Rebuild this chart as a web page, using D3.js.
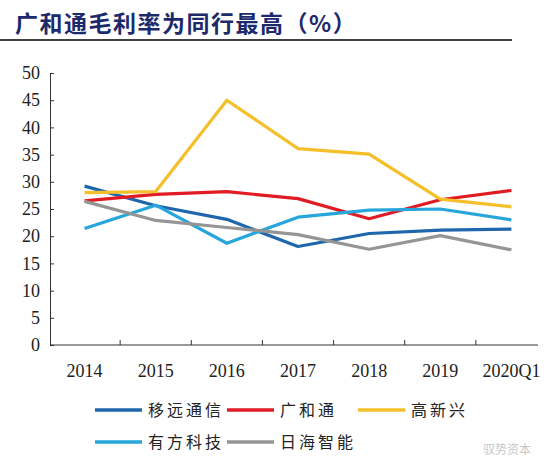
<!doctype html>
<html>
<head>
  <meta charset="utf-8">
  <style>
    body { margin: 0; background: #fff; }
    svg { display: block; }
  </style>
  <script src="https://cdn.jsdelivr.net/npm/d3@7"></script>
</head>
<body>
<script>
  // categories and series
  var years = ["2014", "2015", "2016", "2017", "2018", "2019", "2020Q1"];
  var yiyuan = [29.2, 25.6, 23.1, 18.1, 20.5, 21.1, 21.3];
  var guanghetong = [26.5, 27.7, 28.2, 26.9, 23.2, 26.7, 28.4];
  var gaoxinxing = [28.0, 28.2, 45.0, 36.1, 35.1, 26.8, 25.4];
  var youfang = [21.4, 25.7, 18.7, 23.5, 24.8, 25.0, 23.0];
  var rihai = [26.4, 22.9, 21.6, 20.3, 17.6, 20.1, 17.5];
  var yTicks = [0, 5, 10, 15, 20, 25, 30, 35, 40, 45, 50];

  var series = [
    { name: "移远通信", values: yiyuan, color: "#1f67ad" },
    { name: "广和通", values: guanghetong, color: "#e01b24" },
    { name: "高新兴", values: gaoxinxing, color: "#f4bf28" },
    { name: "有方科技", values: youfang, color: "#27a6dc" },
    { name: "日海智能", values: rihai, color: "#959595" }
  ];

  var svgW = 550, svgH = 469;
  var serif = "'Liberation Serif', 'DejaVu Serif', serif";
  var svg = d3.select("body").append("svg")
    .attr("width", svgW)
    .attr("height", svgH);

  // title + rule under it
  svg.append("text")
    .attr("x", 15)
    .attr("y", 32)
    .style("font-family", "'Noto Sans CJK SC'")
    .style("font-weight", "bold")
    .style("font-size", "23px")
    .style("letter-spacing", "1.5px")
    .attr("fill", "#1c2a6b")
    .text("广和通毛利率为同行最高（%）");
  svg.append("line")
    .attr("x1", 0).attr("x2", 512)
    .attr("y1", 40).attr("y2", 40)
    .attr("stroke", "#000").attr("stroke-width", 1.5);

  var x = d3.scaleBand().domain(years).range([49, 547]);
  var y = d3.scaleLinear().domain([0, 50]).range([345, 73]);

  // y axis
  var yAxis = svg.append("g")
    .attr("transform", "translate(50,0)")
    .call(d3.axisLeft(y).tickValues(yTicks).tickSize(4).tickSizeOuter(0));
  yAxis.select(".domain").attr("stroke", "#333");
  yAxis.selectAll(".tick line").attr("stroke", "#333").attr("x1", 0).attr("x2", 4);
  yAxis.selectAll(".tick text")
    .attr("x", -10)
    .style("font-family", serif)
    .style("font-size", "18px")
    .attr("fill", "#222");

  // x axis
  var xAxis = svg.append("g")
    .attr("transform", "translate(0,345)")
    .call(d3.axisBottom(x).tickSize(0).tickSizeOuter(0));
  xAxis.select(".domain").remove();
  xAxis.selectAll(".tick text")
    .attr("y", 19)
    .style("font-family", serif)
    .style("font-size", "18px")
    .attr("fill", "#222");
  svg.append("line")
    .attr("x1", 50).attr("x2", 538)
    .attr("y1", 345).attr("y2", 345)
    .attr("stroke", "#333");
  svg.selectAll(".xsep")
    .data(years.slice(1))
    .enter().append("line")
    .attr("class", "xsep")
    .attr("x1", function(d) { return x(d); })
    .attr("x2", function(d) { return x(d); })
    .attr("y1", 345).attr("y2", 340)
    .attr("stroke", "#333");

  // lines
  var line = d3.line()
    .x(function(d, i) { return x(years[i]) + x.bandwidth() / 2; })
    .y(function(d) { return y(d); });

  svg.selectAll(".series")
    .data(series)
    .enter().append("path")
    .attr("class", "series")
    .attr("d", function(s) { return line(s.values); })
    .attr("fill", "none")
    .attr("stroke", function(s) { return s.color; })
    .attr("stroke-width", 3.2)
    .attr("stroke-linejoin", "round");

  // legend
  var legendPos = [[95, 410], [227, 410], [358, 410], [95, 442], [227, 442]];
  var lg = svg.selectAll(".legend")
    .data(series)
    .enter().append("g")
    .attr("class", "legend")
    .attr("transform", function(s, i) { return "translate(" + legendPos[i][0] + "," + legendPos[i][1] + ")"; });
  lg.append("line")
    .attr("x1", 0).attr("x2", 47)
    .attr("y1", 0).attr("y2", 0)
    .attr("stroke", function(s) { return s.color; })
    .attr("stroke-width", 3.5);
  lg.append("text")
    .attr("x", 53)
    .attr("y", 6)
    .style("font-family", "'Noto Sans CJK SC'")
    .style("font-size", "16px")
    .style("letter-spacing", "3px")
    .attr("fill", "#222")
    .text(function(s) { return s.name; });

  // watermark
  svg.append("text")
    .attr("x", 483)
    .attr("y", 454)
    .style("font-family", "'Noto Sans CJK SC'")
    .style("font-size", "12px")
    .attr("fill", "#c8c8c8")
    .text("驭势资本");
</script>
</body>
</html>
